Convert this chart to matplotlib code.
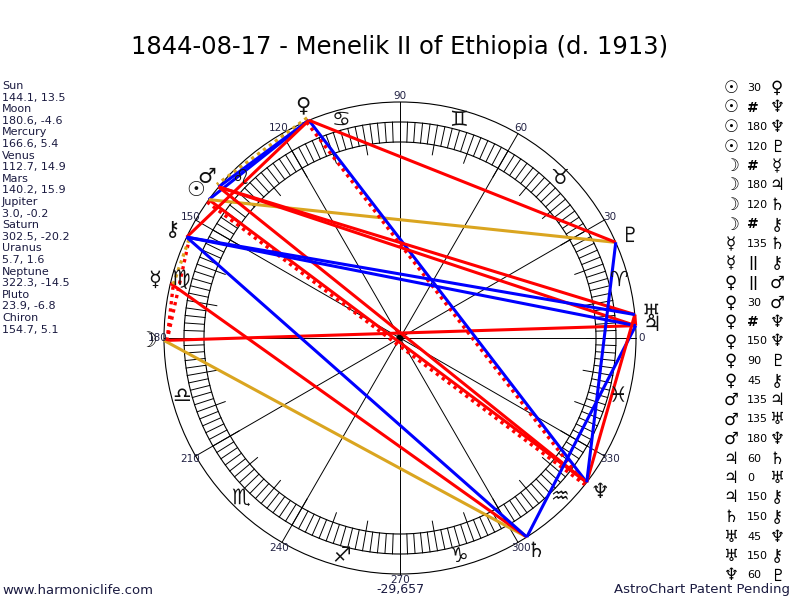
import numpy as np
import matplotlib
matplotlib.use('Agg')
import matplotlib.pyplot as plt

# ---------------------------------------------------------------- data
planets = ['Sun', 'Moon', 'Mercury', 'Venus', 'Mars', 'Jupiter',
           'Saturn', 'Uranus', 'Neptune', 'Pluto', 'Chiron']
glyphs = ['\u2609', '\u263D', '\u263F', '\u2640', '\u2642', '\u2643',
          '\u2644', '\u2645', '\u2646', '\u2647', '\u26B7']
longitudes = [144.1, 180.6, 166.6, 112.7, 140.2, 3.0, 302.5, 5.7, 322.3, 23.9, 154.7]
declinations = [13.5, -4.6, 5.4, 14.9, 15.9, -0.2, -20.2, 1.6, -14.5, -6.8, 5.1]

aspect_from = ['Sun', 'Sun', 'Sun', 'Sun', 'Moon', 'Moon', 'Moon', 'Moon',
               'Mercury', 'Mercury', 'Venus', 'Venus', 'Venus', 'Venus', 'Venus', 'Venus',
               'Mars', 'Mars', 'Mars', 'Jupiter', 'Jupiter', 'Jupiter',
               'Saturn', 'Uranus', 'Uranus', 'Neptune']
aspect_kind = ['30', '#', '180', '120', '#', '180', '120', '#',
               '135', '||', '||', '30', '#', '150', '90', '45',
               '135', '135', '180', '60', '0', '150',
               '150', '45', '150', '60']
aspect_to = ['Venus', 'Neptune', 'Neptune', 'Pluto', 'Mercury', 'Jupiter', 'Saturn', 'Chiron',
             'Saturn', 'Chiron', 'Mars', 'Mars', 'Neptune', 'Neptune', 'Pluto', 'Chiron',
             'Jupiter', 'Uranus', 'Neptune', 'Saturn', 'Uranus', 'Chiron',
             'Chiron', 'Neptune', 'Chiron', 'Pluto']

zodiac = ['\u2648', '\u2649', '\u264A', '\u264B', '\u264C', '\u264D',
          '\u264E', '\u264F', '\u2650', '\u2651', '\u2652', '\u2653']
degree_labels = ['0', '30', '60', '90', '120', '150', '180', '210', '240', '270', '300', '330']

# aspect kind -> (colour, dotted)
aspect_style = {'0': ('#ff0000', False), '45': ('#ff0000', False), '90': ('#ff0000', False),
                '135': ('#ff0000', False), '180': ('#ff0000', False),
                '30': ('#0000ff', False), '60': ('#0000ff', False), '150': ('#0000ff', False),
                '120': ('#daa520', False),
                '#': ('#ff0000', True), '||': ('#daa520', True)}

# ---------------------------------------------------------------- geometry
CX, CY = 400, 338
R_OUT = 236
R_BAND_OUT = 216
R_BAND_IN = 196
R_TICK10 = 186
R_SIGN = 226
R_PLANET = 252
R_LABEL = 242


def polar(lon, r):
    a = np.radians(lon)
    return CX + r * np.cos(a), CY - r * np.sin(a)


plt.rcParams['font.family'] = ['DejaVu Sans', 'Noto Sans']
fig = plt.figure(figsize=(8, 6), dpi=100)
ax = fig.add_axes([0, 0, 1, 1])
ax.set_xlim(0, 800)
ax.set_ylim(600, 0)
ax.axis('off')

# wheel circles
for r in (R_OUT, R_BAND_OUT, R_BAND_IN):
    ax.add_patch(plt.Circle((CX, CY), r, fill=False, color='black', lw=0.8))

# degree ticks in the band
for d in range(0, 360, 2):
    r_in = R_TICK10 if d % 10 == 0 else R_BAND_IN
    x0, y0 = polar(d, r_in)
    x1, y1 = polar(d, R_BAND_OUT)
    ax.plot([x0, x1], [y0, y1], color='black', lw=0.7)

# sign spokes
for d in range(0, 360, 30):
    x1, y1 = polar(d, R_OUT)
    ax.plot([CX, x1], [CY, y1], color='black', lw=0.7)
ax.add_patch(plt.Circle((CX, CY), 3, color='black'))

# sign glyphs and degree labels
for i, g in enumerate(zodiac):
    x, y = polar(15 + 30 * i, R_SIGN)
    ax.text(x, y, g, ha='center', va='center', fontsize=15, color='#111111')
for i, lab in enumerate(degree_labels):
    x, y = polar(30 * i, R_LABEL)
    ax.text(x, y, lab, ha='center', va='center', fontsize=7.5, color='#222244')

# aspect lines
lon_of = dict(zip(planets, longitudes))
glyph_of = dict(zip(planets, glyphs))
for p1, kind, p2 in zip(aspect_from, aspect_kind, aspect_to):
    col, dotted = aspect_style[kind]
    x0, y0 = polar(lon_of[p1], R_OUT)
    x1, y1 = polar(lon_of[p2], R_OUT)
    if dotted:
        dx, dy = x1 - x0, y1 - y0
        n = np.hypot(dx, dy)
        ox, oy = -dy / n * 3, dx / n * 3
        ax.plot([x0 + ox, x1 + ox], [y0 + oy, y1 + oy], color=col, lw=2.4,
                linestyle=(0, (1, 1.2)))
    else:
        ax.plot([x0, x1], [y0, y1], color=col, lw=2.2, solid_capstyle='butt')

# planet glyphs around the wheel
for name, lon in zip(planets, longitudes):
    x, y = polar(lon, R_PLANET)
    ax.text(x, y, glyph_of[name], ha='center', va='center', fontsize=15, color='#111111',
            fontweight='bold')

# title
ax.text(400, 47, '1844-08-17 - Menelik II of Ethiopia (d. 1913)', ha='center', va='center',
        fontsize=17.5, color='black')

# left column: positions
y = 86
for name, lon, dec in zip(planets, longitudes, declinations):
    ax.text(2, y, name, ha='left', va='center', fontsize=8, color='#1a1a40')
    ax.text(2, y + 11.6, f'{lon:.1f}, {dec:.1f}', ha='left', va='center', fontsize=8,
            color='#1a1a40')
    y += 23.2

# right column: aspect list
y = 88
for p1, kind, p2 in zip(aspect_from, aspect_kind, aspect_to):
    ax.text(731, y, glyph_of[p1], ha='center', va='center', fontsize=12, color='black',
            fontweight='bold')
    if kind in ('#', '||'):
        ax.text(753, y, kind, ha='center', va='center', fontsize=10, fontweight='bold',
                color='black')
    else:
        ax.text(747, y, kind, ha='left', va='center', fontsize=8, color='black')
    ax.text(777, y, glyph_of[p2], ha='center', va='center', fontsize=12, color='black',
            fontweight='bold')
    y += 19.5

# footer
ax.text(2, 590, 'www.harmoniclife.com', ha='left', va='center', fontsize=9.5, color='#1a1a40')
ax.text(400, 590, '-29,657', ha='center', va='center', fontsize=9, color='#1a1a40')
ax.text(790, 590, 'AstroChart Patent Pending', ha='right', va='center', fontsize=9.5,
        color='#1a1a40')

fig.savefig('out.png', dpi=100)
